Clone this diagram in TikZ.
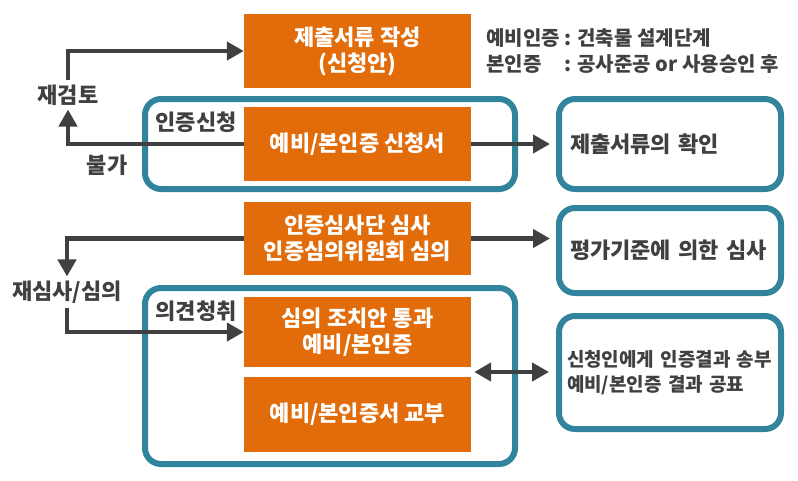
\documentclass[tikz,border=0pt]{standalone}
\usepackage{fontspec}
\setmainfont{Noto Sans CJK KR}
\usetikzlibrary{arrows.meta,calc}
\definecolor{certorange}{HTML}{E36C0A}
\definecolor{certteal}{HTML}{31849B}
\definecolor{arrowgray}{HTML}{404040}
\tikzset{
  orangebox/.style={fill=certorange, text=white, font=\bfseries\fontsize{22}{26}\selectfont, minimum width=227pt, align=center, inner sep=0pt},
  groupbox/.style={draw=certteal, line width=6pt, rounded corners=16pt, inner sep=0pt},
  resultbox/.style={groupbox, minimum width=222pt, text width=206pt, inner xsep=8pt, align=left, text=arrowgray},
  graylabel/.style={text=arrowgray, font=\bfseries\fontsize{22}{26}\selectfont, inner sep=4pt},
  flowarrow/.style={draw=arrowgray, line width=4.5pt, -{Triangle[length=17pt,width=18pt]}}
}
\begin{document}
\begin{tikzpicture}[x=1pt,y=-1pt]
  \useasboundingbox (0,0) rectangle (798,480);
  \node[groupbox, minimum width=370pt, minimum height=90pt] (applygroup) at (330,144) {};
  \node[groupbox, minimum width=370pt, minimum height=176pt] (opiniongroup) at (330,376) {};
  \node[orangebox, minimum height=74pt] (draft) at (357.5,51) {제출서류 작성\\(신청안)};
  \node[orangebox, minimum height=74pt] (request) at (357.5,144) {예비/본인증 신청서};
  \node[orangebox, minimum height=73pt] (review) at (357.5,238.5) {인증심사단 심사\\인증심의위원회 심의};
  \node[orangebox, minimum height=70pt] (pass) at (357.5,332) {심의 조치안 통과\\예비/본인증};
  \node[orangebox, minimum height=75pt] (issue) at (357.5,414.5) {예비/본인증서 교부};
  \node[resultbox, minimum height=90pt, font=\bfseries\fontsize{22}{26}\selectfont] (checkdocs) at (670,144) {\hspace*{3pt}제출서류의 확인};
  \node[resultbox, minimum height=85pt, font=\bfseries\fontsize{22}{26}\selectfont] (evaluate) at (670,250.5) {\hspace*{3pt}평가기준에 의한 심사};
  \node[resultbox, minimum height=113pt, font=\bfseries\fontsize{19}{25}\selectfont] (notify) at (670,372.5) {신청인에게 인증결과 송부\\예비/본인증 결과 공표};
  \node[graylabel, anchor=west, font=\bfseries\fontsize{20}{26.5}\selectfont, inner sep=0pt] (phase) at (486,53)
    {\begin{tabular}{@{}l@{ }l@{}}예비인증 & : 건축물 설계단계\\본인증 & : 공사준공 or 사용승인 후\end{tabular}};
  \node[graylabel] (applylabel) at (196,122) {인증신청};
  \node[graylabel] (opinionlabel) at (196,311) {의견청취};
  \node[graylabel] (recheck) at (68,95) {재검토};
  \node[graylabel] (reject) at (107,165) {불가};
  \node[graylabel] (rereview) at (67,292) {재심사/심의};
  \draw[flowarrow] (request.west) -| (recheck.south);
  \draw[flowarrow] (recheck.north) |- (draft.west);
  \draw[flowarrow, shorten >=6pt] (request.east) -- (request.east -| checkdocs.west);
  \draw[flowarrow] (review.west) -| (rereview.north);
  \draw[flowarrow] (rereview.south) |- (pass.west);
  \draw[flowarrow, shorten >=6pt] (review.east) -- (review.east -| evaluate.west);
  \coordinate (between) at ($(pass.south east)!0.5!(issue.north east)$);
  \draw[flowarrow, {Triangle[length=17pt,width=18pt]}-{Triangle[length=17pt,width=18pt]}, shorten <=3pt, shorten >=7pt] (between) -- (between -| notify.west);
\end{tikzpicture}
\end{document}
